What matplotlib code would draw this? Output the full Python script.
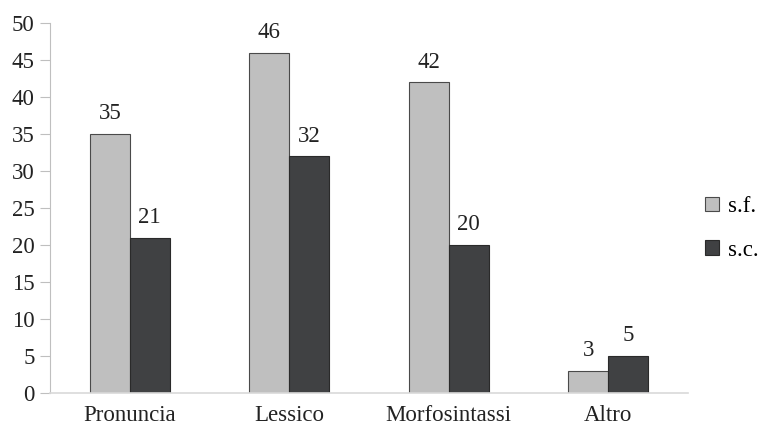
import matplotlib.pyplot as plt
import numpy as np

categorie = ['Pronuncia', 'Lessico', 'Morfosintassi', 'Altro']
sf = [35, 46, 42, 3]
sc = [21, 32, 20, 5]

plt.rcParams['font.family'] = ['Liberation Serif', 'DejaVu Serif']

fig = plt.figure(figsize=(7.77, 4.34), dpi=100)
ax = fig.add_axes([0.0644, 0.0945, 0.821, 0.8525])

x = np.arange(len(categorie))
w = 0.25
b1 = ax.bar(x - w/2, sf, w, color='#bfbfbf', edgecolor='#4a4a4a', linewidth=0.8, label='s.f.')
b2 = ax.bar(x + w/2, sc, w, color='#404143', edgecolor='#2a2a2a', linewidth=0.8, label='s.c.')

for bars in (b1, b2):
    for r in bars:
        ax.text(r.get_x() + r.get_width()/2, r.get_height() + 1.3, str(int(r.get_height())),
                ha='center', va='bottom', fontsize=16.5, color='#222222')

ax.set_xlim(-0.5, 3.5)
ax.set_ylim(0, 50)
ax.set_yticks(range(0, 51, 5))
ax.set_xticks(x)
ax.set_xticklabels(categorie)
ax.tick_params(axis='x', length=0, labelsize=16.5, pad=9, colors='#222222')
ax.tick_params(axis='y', length=7, width=0.8, color='#bfbfbf', labelsize=16.5, pad=4, labelcolor='#222222')

for s in ['top', 'right']:
    ax.spines[s].set_visible(False)
ax.spines['left'].set_color('#bfbfbf')
ax.spines['bottom'].set_color('#d9d9d9')
ax.spines['left'].set_linewidth(0.8)
ax.spines['bottom'].set_linewidth(1.2)

ax.legend(loc='center left', bbox_to_anchor=(0.995, 0.445), frameon=False, fontsize=16.5,
          handlelength=0.6, handleheight=0.6, handletextpad=0.4, labelspacing=1.0)

plt.savefig('out.png', dpi=100)
